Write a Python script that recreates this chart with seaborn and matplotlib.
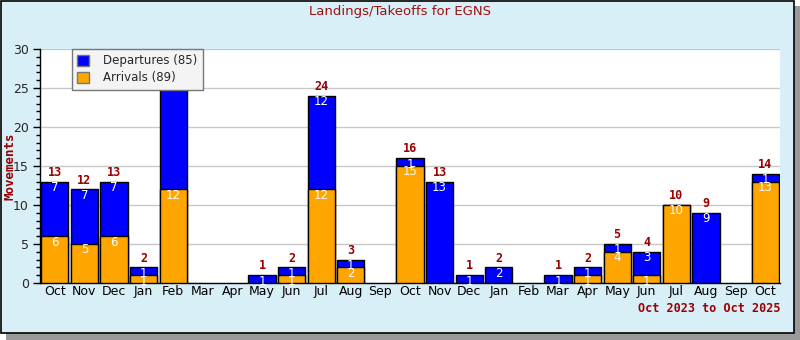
import numpy as np
import pandas as pd
import matplotlib
matplotlib.use("Agg")
import matplotlib.pyplot as plt
import seaborn as sns
from matplotlib.patches import Rectangle, Patch
from matplotlib.ticker import MultipleLocator, FixedLocator

# ---------------- data ----------------
periods = ["2023-10", "2023-11", "2023-12", "2024-01", "2024-02", "2024-03",
           "2024-04", "2024-05", "2024-06", "2024-07", "2024-08", "2024-09",
           "2024-10", "2024-11", "2024-12", "2025-01", "2025-02", "2025-03",
           "2025-04", "2025-05", "2025-06", "2025-07", "2025-08", "2025-09",
           "2025-10"]
month_labels = ["Oct", "Nov", "Dec", "Jan", "Feb", "Mar", "Apr", "May", "Jun",
                "Jul", "Aug", "Sep", "Oct", "Nov", "Dec", "Jan", "Feb", "Mar",
                "Apr", "May", "Jun", "Jul", "Aug", "Sep", "Oct"]
arrivals = [6, 5, 6, 1, 12, 0, 0, 0, 1, 12, 2, 0, 15, 0, 0, 0, 0, 0, 1, 4, 1, 10, 0, 0, 13]
departures = [7, 7, 7, 1, 15, 0, 0, 1, 1, 12, 1, 0, 1, 13, 1, 2, 0, 1, 1, 1, 3, 0, 9, 0, 1]
title = "Landings/Takeoffs for EGNS"
range_label = "Oct 2023 to Oct 2025"
y_label = "Movements"

df = pd.DataFrame({"period": periods, "arrivals": arrivals, "departures": departures})
df["total"] = df["arrivals"] + df["departures"]

BLUE = "#0000ff"
ORANGE = "#ffa500"
DARKRED = "#990000"
BG = "#d8eff8"

sns.set_theme(style="white")
plt.rcParams["font.family"] = ["DejaVu Sans"]

fig = plt.figure(figsize=(8, 3.4), dpi=100)
fig.patch.set_facecolor("white")
# shadow + outer frame
fig.add_artist(Rectangle((6 / 800, 0), 794 / 800, 334 / 340, transform=fig.transFigure,
                         facecolor="#9a9a9a", edgecolor="none", zorder=-3))
fig.add_artist(Rectangle((0.5 / 800, 7 / 340), 793 / 800, 332.5 / 340, transform=fig.transFigure,
                         facecolor=BG, edgecolor="black", linewidth=1.2, zorder=-2))

ax = fig.add_axes([40 / 800, (340 - 283) / 340, 740 / 800, 234 / 340])
ax.set_facecolor("white")

sns.barplot(data=df, x="period", y="total", order=periods, color=BLUE, saturation=1,
            edgecolor="black", linewidth=1.0, width=0.92, ax=ax, zorder=2)
sns.barplot(data=df, x="period", y="arrivals", order=periods, color=ORANGE, saturation=1,
            edgecolor="black", linewidth=1.0, width=0.92, ax=ax, zorder=3)

# hide zero-height bars
for p in ax.patches:
    if p.get_height() == 0:
        p.set_visible(False)

ax.set_ylim(0, 30)
ax.set_xlim(-0.5, len(periods) - 0.5)

# value labels
for i, (a, d) in enumerate(zip(arrivals, departures)):
    t = a + d
    if a > 0:
        ax.annotate(str(a), (i, a), xytext=(0, 0.5), textcoords="offset points",
                    ha="center", va="top", color="white", fontsize=8.5, zorder=5,
                    annotation_clip=False)
    if d > 0:
        ax.annotate(str(d), (i, t), xytext=(0, 0.5), textcoords="offset points",
                    ha="center", va="top", color="white", fontsize=8.5, zorder=5,
                    annotation_clip=False)
    if t > 0 and t <= 30:
        ax.annotate(str(t), (i, t), xytext=(0, 2), textcoords="offset points",
                    ha="center", va="bottom", color=DARKRED, fontsize=8.5,
                    fontweight="bold", family="DejaVu Sans Mono", zorder=5)

# grid
ax.yaxis.set_major_locator(MultipleLocator(5))
ax.yaxis.set_minor_locator(MultipleLocator(1))
ax.grid(axis="y", which="major", color="#c8c8c8", linewidth=1, zorder=0)
ax.set_axisbelow(True)

# x ticks: labels at centers, tick marks at boundaries
ax.set_xticks(range(len(periods)))
ax.set_xticklabels(month_labels)
ax.xaxis.set_minor_locator(FixedLocator(np.arange(-0.5, len(periods), 1.0)))
ax.tick_params(axis="x", which="major", length=0, pad=1.5, labelsize=9, colors="black")
ax.tick_params(axis="x", which="minor", length=5, width=1, color="black", direction="out")
ax.tick_params(axis="y", which="major", length=5, width=1, labelsize=9, pad=3,
               color="black", left=True, direction="out")
ax.tick_params(axis="y", which="minor", length=3, width=1, color="black", left=True,
               direction="out")

for s in ["top", "right"]:
    ax.spines[s].set_visible(False)
ax.spines["left"].set_color("black")
ax.spines["bottom"].set_color("black")
ax.spines["left"].set_linewidth(1)
ax.spines["bottom"].set_linewidth(1)

ax.set_xlabel("")
ax.set_ylabel("")
fig.text(10 / 800, 1 - 166 / 340, y_label, rotation=90, ha="center", va="center",
         color=DARKRED, fontsize=9, fontweight="bold", family="DejaVu Sans Mono")

fig.text(0.5, 1 - 12 / 340, title, ha="center", va="center", color="#a01010", fontsize=9.5)
fig.text(780 / 800, 1 - 308 / 340, range_label, ha="right", va="center", color=DARKRED,
         fontsize=8.5, fontweight="bold", family="DejaVu Sans Mono")

handles = [Patch(facecolor=BLUE, edgecolor="#777777", label=f"Departures ({sum(departures)})"),
           Patch(facecolor=ORANGE, edgecolor="#777777", label=f"Arrivals ({sum(arrivals)})")]
leg = ax.legend(handles=handles, loc="upper left", bbox_to_anchor=(32 / 740, 1.0),
                borderaxespad=0, frameon=True, fancybox=False, fontsize=8.5,
                facecolor="#f4f4f4", edgecolor="#777777", framealpha=1,
                handlelength=1.0, handleheight=1.0, handletextpad=1.2,
                borderpad=0.45, labelspacing=0.35)
leg.get_frame().set_linewidth(1)
leg.set_zorder(10)

fig.savefig("out.png", dpi=100, facecolor=fig.get_facecolor())
